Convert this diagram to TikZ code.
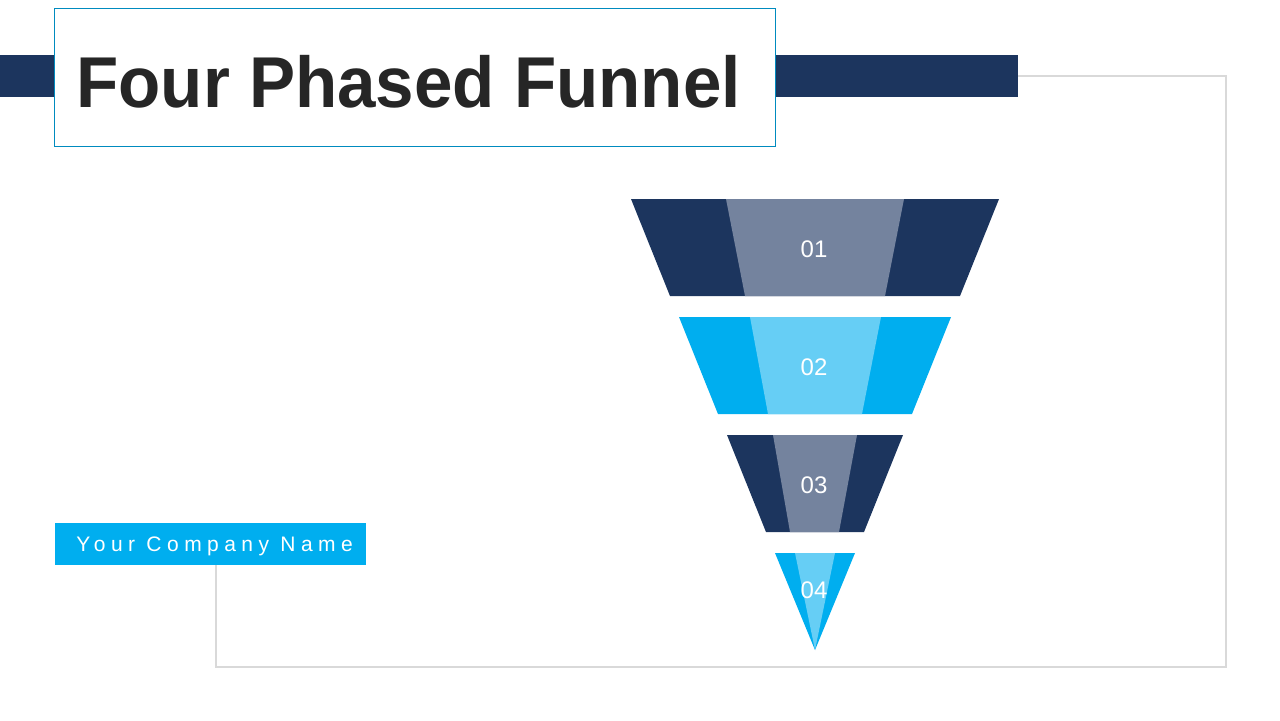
\documentclass[tikz,border=0pt]{standalone}
\usepackage{fontspec}
\setmainfont{Liberation Sans}
\usetikzlibrary{shadows}
\definecolor{navy}{HTML}{1C355E}
\definecolor{slate}{HTML}{74839E}
\definecolor{cyanb}{HTML}{00AEEF}
\definecolor{lcyan}{HTML}{66CEF5}
\definecolor{frameg}{HTML}{D9D9D9}
\definecolor{titlec}{HTML}{262626}
\tikzset{num/.style={text=white,font=\fontsize{12}{12}\selectfont}}
\begin{document}
\begin{tikzpicture}[x=0.5pt,y=-0.5pt]
\useasboundingbox (0,0) rectangle (1280,720);
\fill[white] (0,0) rectangle (1280,720);
\draw[frameg,line width=0.6pt] (216,565) -- (216,667) -- (1226,667) -- (1226,76) -- (1018,76);
\fill[navy] (0,55) rectangle (1018,97);
\node[draw=cyanb!80!black,line width=0.5pt,fill=white,minimum width=360.5pt,minimum height=69pt,inner sep=0] (title) at (414.5,77) {};
\node[anchor=base west,text=titlec,font=\bfseries\fontsize{36}{36}\selectfont,xscale=0.96,inner sep=0] (tt) at (76,107) {Four Phased Funnel};
\node[fill=cyanb,minimum width=155.5pt,minimum height=21pt,inner sep=0] (cbox) at (210.5,544) {};
\node[text=white,font=\addfontfeature{LetterSpace=26}\fontsize{10.5}{10.5}\selectfont,anchor=west,inner sep=0] (cn) at (76,546) {Your Company Name};
% level 1
\fill[navy] (631,199) -- (999,199) -- (960,296) -- (670,296) -- cycle;
\fill[slate] (726,199) -- (904,199) -- (885,296) -- (745,296) -- cycle;
% level 2
\fill[cyanb] (679,317) -- (951,317) -- (912,414) -- (718,414) -- cycle;
\fill[lcyan] (750,317) -- (881,317) -- (862,414) -- (768,414) -- cycle;
% level 3
\fill[navy] (727,435) -- (903,435) -- (864,532) -- (766,532) -- cycle;
\fill[slate] (773,435) -- (857,435) -- (839,532) -- (790,532) -- cycle;
% level 4
\fill[cyanb] (775,553) -- (855,553) -- (815,650) -- cycle;
\fill[lcyan] (795,553) -- (835,553) -- (815,650) -- cycle;
\node[num] (n1) at (814,249) {01};
\node[num] (n2) at (814,367) {02};
\node[num] (n3) at (814,485) {03};
\node[num] (n4) at (814,590) {04};
\end{tikzpicture}
\end{document}
